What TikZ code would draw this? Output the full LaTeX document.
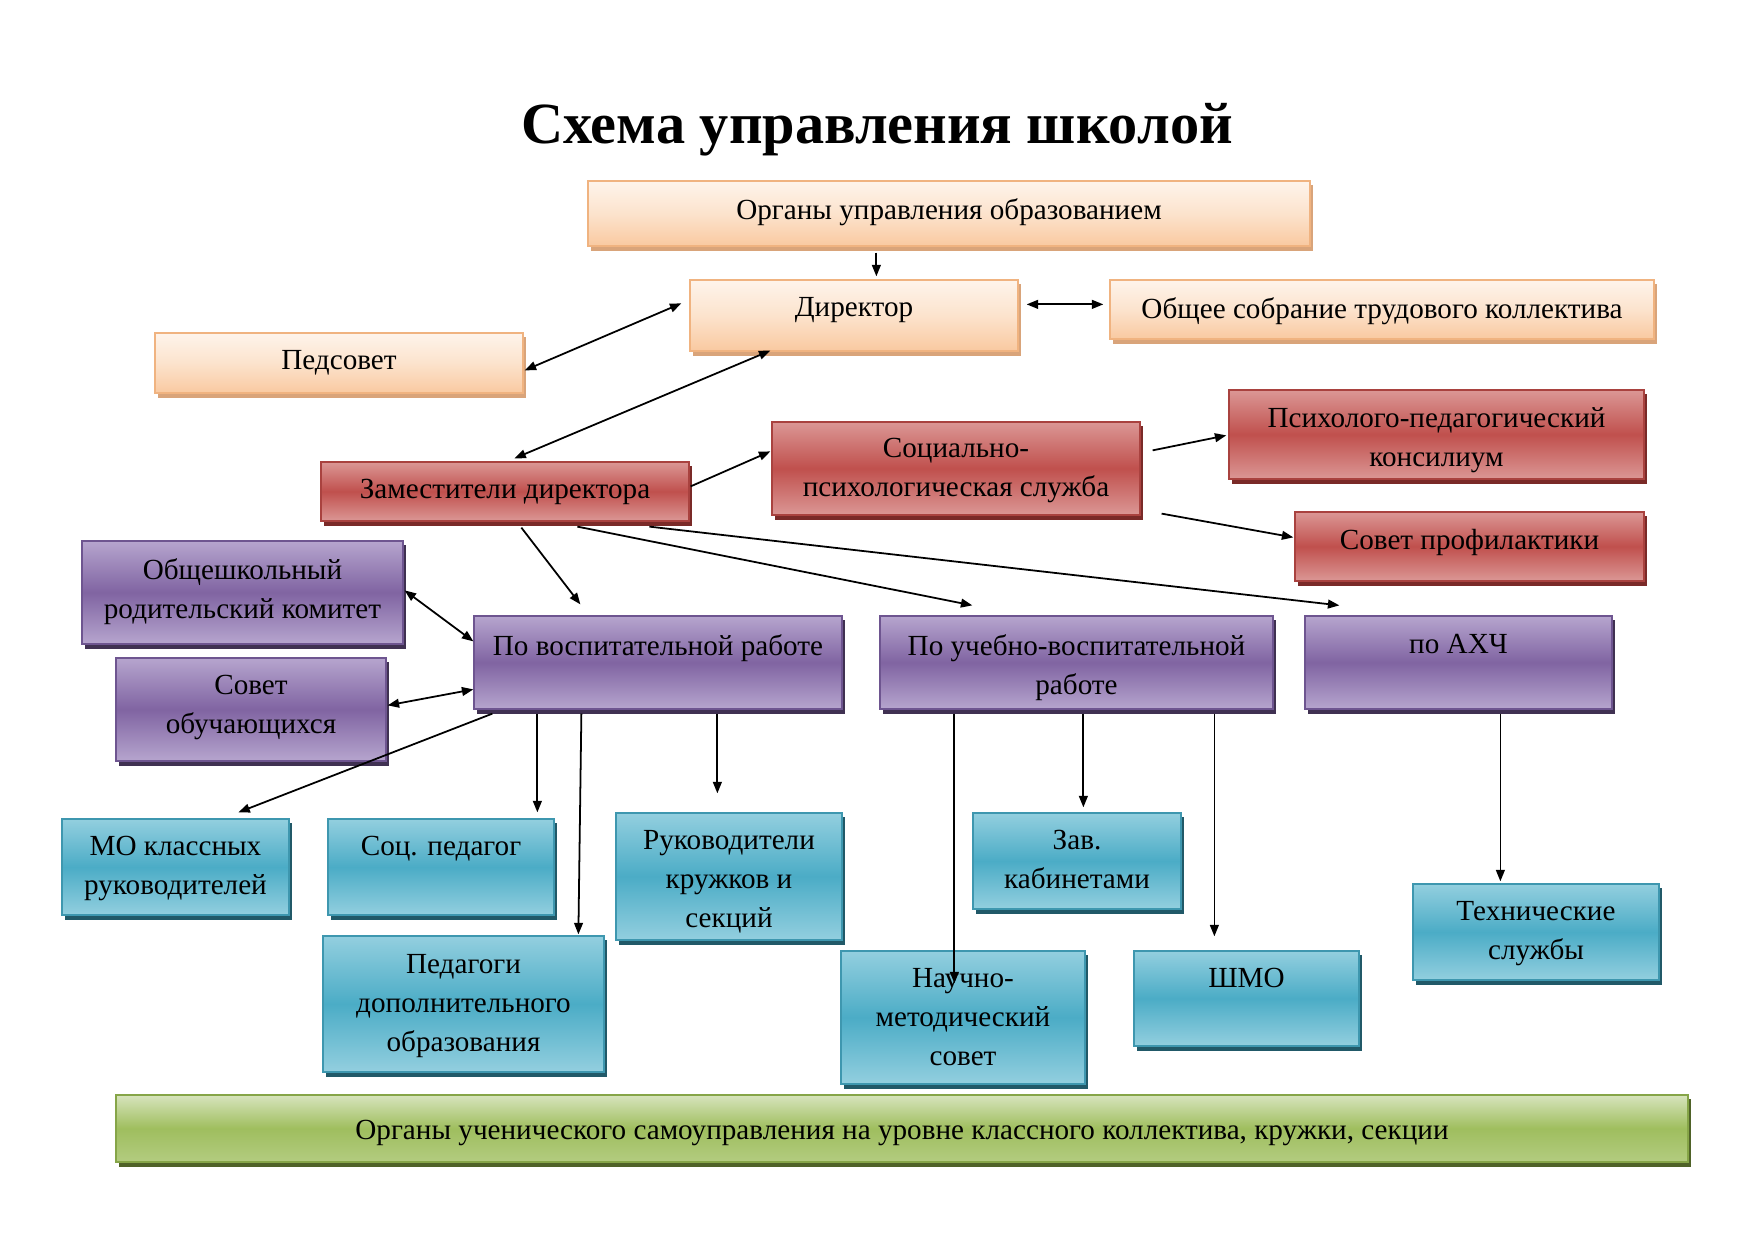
\documentclass[tikz,border=0pt]{standalone}
\usepackage{fontspec}
\setmainfont{Liberation Serif}
\usetikzlibrary{arrows.meta,calc,fit}

\definecolor{pchT}{HTML}{FEF4EB}
\definecolor{pchM}{HTML}{FCE3CD}
\definecolor{pchB}{HTML}{F9C9A0}
\definecolor{pchD}{HTML}{F0B380}
\definecolor{pchS}{HTML}{D9A47A}
\definecolor{redL}{HTML}{DB9795}
\definecolor{redM}{HTML}{C0504D}
\definecolor{redD}{HTML}{A9423F}
\definecolor{redS}{HTML}{7A2A28}
\definecolor{purL}{HTML}{B6A5CE}
\definecolor{purM}{HTML}{8064A2}
\definecolor{purD}{HTML}{6E5590}
\definecolor{purS}{HTML}{403152}
\definecolor{bluL}{HTML}{93CFDF}
\definecolor{bluM}{HTML}{4BACC6}
\definecolor{bluD}{HTML}{3E97AF}
\definecolor{bluS}{HTML}{215968}
\definecolor{grnL}{HTML}{D7E4BD}
\definecolor{grnM}{HTML}{9FBE5E}
\definecolor{grnB}{HTML}{B3CC80}
\definecolor{grnD}{HTML}{86A548}
\definecolor{grnS}{HTML}{4F6228}

\tikzset{
  bx/.style={inner sep=0pt, line width=0.6pt},
  bxpeach/.style={bx, draw=pchD, top color=pchT, bottom color=pchB, middle color=pchM},
  bxred/.style={bx, draw=redD, top color=redL, bottom color=redL, middle color=redM},
  bxpurple/.style={bx, draw=purD, top color=purL, bottom color=purL, middle color=purM},
  bxblue/.style={bx, draw=bluD, top color=bluL, bottom color=bluL, middle color=bluM},
  bxgreen/.style={bx, draw=grnD, top color=grnL, bottom color=grnB, middle color=grnM},
  bxpeachsh/.style={fill=pchS},
  bxredsh/.style={fill=redS},
  bxpurplesh/.style={fill=purS},
  bxbluesh/.style={fill=bluS},
  bxgreensh/.style={fill=grnS},
  txt/.style={inner sep=0pt, align=center, font=\fontsize{14}{18.7}\selectfont},
  arr/.style={-{Triangle[length=5.5pt,width=4.2pt]}, line width=0.85pt},
  darr/.style={{Triangle[length=5.5pt,width=4.2pt]}-{Triangle[length=5.5pt,width=4.2pt]}, line width=0.85pt},
}

% #1 text offset, #2 name, #3 style, #4-#7 corners, #8 text
\newcommand{\mkbox}[8][17.5]{%
  \fill[#3sh] ($(#4,#5)+(3,4)$) rectangle ($(#6,#7)+(3,5)$);
  \node[fit={(#4,#5) (#6,#7)}, #3] (#2) {};
  \node[txt, anchor=north] (#2t) at ($(#2.north)+(0,#1)$) {#8};
}

\begin{document}
\begin{tikzpicture}[x=0.48pt,y=-0.48pt]
\fill[white] (0,0) rectangle (1754,1240);
\useasboundingbox (0,0) rectangle (1754,1240);

\node[font=\fontsize{28}{34}\selectfont\bfseries] (title) at (877,130) {Схема управления школой};

\mkbox{org}{bxpeach}{588}{181}{1310}{246}{Органы управления образованием}
\mkbox{dir}{bxpeach}{690}{280}{1018}{351}{Директор}
\mkbox{obs}{bxpeach}{1110}{280}{1654}{339}{Общее собрание трудового коллектива}
\mkbox{ped}{bxpeach}{155}{333}{523}{393}{Педсовет}

\mkbox{zam}{bxred}{321}{462}{689}{521}{Заместители директора}
\mkbox[16]{soc}{bxred}{772}{422}{1140}{515}{Социально-\\психологическая служба}
\mkbox{psy}{bxred}{1229}{390}{1644}{479}{Психолого-педагогический\\консилиум}
\mkbox{sov}{bxred}{1295}{512}{1644}{581}{Совет профилактики}

\mkbox{rod}{bxpurple}{82}{541}{403}{644}{Общешкольный\\родительский комитет}
\mkbox{uch}{bxpurple}{116}{658}{386}{761}{Совет\\обучающихся}
\mkbox[18.5]{vos}{bxpurple}{474}{616}{842}{709}{По воспитательной работе}
\mkbox[18.5]{uvr}{bxpurple}{880}{616}{1273}{709}{По учебно-воспитательной\\работе}
\mkbox[18.5]{ahc}{bxpurple}{1305}{616}{1612}{709}{по АХЧ}

\mkbox{mok}{bxblue}{62}{819}{289}{915}{МО классных\\руководителей}
\mkbox{spd}{bxblue}{328}{819}{554}{915}{Соц. педагог}
\mkbox{ruk}{bxblue}{616}{813}{842}{940}{Руководители\\кружков и\\секций}
\mkbox{zav}{bxblue}{973}{813}{1181}{909}{Зав.\\кабинетами}
\mkbox{teh}{bxblue}{1413}{884}{1659}{980}{Технические\\службы}
\mkbox[18.5]{pdo}{bxblue}{323}{936}{604}{1072}{Педагоги\\дополнительного\\образования}
\mkbox{nms}{bxblue}{841}{951}{1085}{1084}{Научно-\\методический\\совет}
\mkbox{shm}{bxblue}{1134}{951}{1359}{1046}{ШМО}

\mkbox[25]{grn}{bxgreen}{116}{1095}{1688}{1162}{Органы ученического самоуправления на уровне классного коллектива, кружки, секции}

% connectors
\draw[arr] ($(org.south west)+(289,6)$) -- ($(dir.north west)+(187,-3)$);
\draw[darr] ($(dir.north east)+(8,25)$) -- ($(obs.north west)+(-6,25)$);
\draw[darr] ($(ped.north east)+(1,38)$) -- ($(dir.north west)+(-8,24)$);
\draw[darr] ($(zam.north west)+(194,-3)$) -- ($(dir.south west)+(81,-1)$);
\draw[arr] ($(zam.north east)+(1,25)$) -- ($(soc.north west)+(-1,30)$);
\draw[arr] ($(soc.north east)+(12,29)$) -- ($(psy.north west)+(-2,46)$);
\draw[arr] ($(soc.south east)+(21,-2)$) -- ($(sov.north west)+(-1,26)$);
\draw[arr] ($(zam.south west)+(201,6)$) -- ($(vos.north west)+(107,-11)$);
\draw[arr] ($(zam.south west)+(257,5)$) -- ($(uvr.north west)+(93,-10)$);
\draw[arr] ($(zam.south west)+(329,5)$) -- ($(ahc.north west)+(35,-10)$);
\draw[darr] ($(rod.north east)+(1,50)$) -- ($(vos.north west)+(0,26)$);
\draw[darr] ($(uch.north east)+(1,48)$) -- ($(vos.north west)+(0,74)$);
\draw[arr] ($(vos.south west)+(19,4)$) -- ($(mok.north west)+(177,-6)$);
\draw[arr] ($(vos.south west)+(64,4)$) -- ($(spd.north west)+(210,-6)$);
\draw[arr] ($(vos.south west)+(108,4)$) -- ($(pdo.north west)+(256,-1)$);
\draw[arr] ($(vos.south west)+(244,4)$) -- ($(ruk.north west)+(102,-19)$);
\draw[arr] ($(uvr.south west)+(75,4)$) -- ($(nms.north west)+(114,33)$);
\draw[arr] ($(uvr.south west)+(204,4)$) -- ($(zav.north west)+(111,-5)$);
\draw[arr] ($(uvr.south west)+(335,4)$) -- ($(shm.north west)+(81,-14)$);
\draw[arr] ($(ahc.south west)+(196,4)$) -- ($(teh.north west)+(88,-2)$);
\end{tikzpicture}
\end{document}
